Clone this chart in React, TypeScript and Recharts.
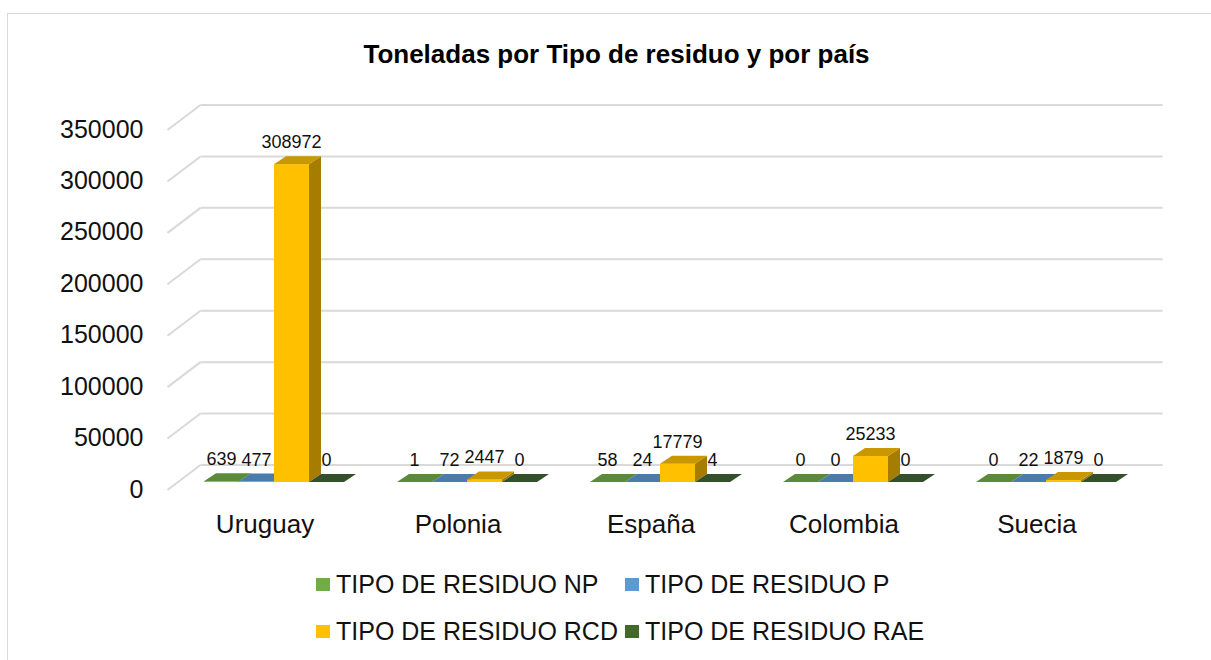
import React from "react";
import { BarChart, Bar, XAxis, YAxis, CartesianGrid, Legend, LabelList } from "recharts";

const countries = ["Uruguay", "Polonia", "España", "Colombia", "Suecia"];
const residuoNP = [639, 1, 58, 0, 0];
const residuoP = [477, 72, 24, 0, 22];
const residuoRCD = [308972, 2447, 17779, 25233, 1879];
const residuoRAE = [0, 0, 4, 0, 0];
const yTicks = [0, 50000, 100000, 150000, 200000, 250000, 300000, 350000];

const data = countries.map((name, i) => ({
  name,
  np: residuoNP[i],
  p: residuoP[i],
  rcd: residuoRCD[i],
  rae: residuoRAE[i],
}));

const FONT = '"Liberation Sans", Arial, sans-serif';
const DX = 12;
const DY = 8;

type Face = { front: string; top: string; side: string };

const series: { key: string; name: string; face: Face }[] = [
  { key: "np", name: "TIPO DE RESIDUO NP", face: { front: "#70ad47", top: "#5a8a3a", side: "#4f7a32" } },
  { key: "p", name: "TIPO DE RESIDUO P", face: { front: "#5b9bd5", top: "#497cab", side: "#3f6c96" } },
  { key: "rcd", name: "TIPO DE RESIDUO RCD", face: { front: "#ffc000", top: "#c99700", side: "#a67d00" } },
  { key: "rae", name: "TIPO DE RESIDUO RAE", face: { front: "#43682b", top: "#33502a", side: "#2b4420" } },
];

// front face + top + right side, so the bars look like Excel's 3D columns
function box(face: Face) {
  return (props: any) => {
    const { x, y, width: w, height: h } = props;
    return (
      <g>
        {h > 0 && <rect x={x} y={y} width={w} height={h} fill={face.front} />}
        {h > 0 && (
          <polygon
            points={`${x + w},${y} ${x + w + DX},${y - DY} ${x + w + DX},${y + h - DY} ${x + w},${y + h}`}
            fill={face.side}
          />
        )}
        <polygon
          points={`${x},${y} ${x + DX},${y - DY} ${x + w + DX},${y - DY} ${x + w},${y}`}
          fill={face.top}
        />
      </g>
    );
  };
}

const valueLabel = (props: any) => {
  const { x, y, width, value } = props;
  return (
    <text x={x + width / 2} y={y - 16} textAnchor="middle" fontSize={18} fontFamily={FONT} fill="#111">
      {value}
    </text>
  );
};

// back-wall gridline with the slanted side-wall segment
const gridLine = (props: any) => {
  const { x1, x2, y1, index } = props;
  return (
    <g key={`g-${index}`}>
      <line x1={x1 - 10} y1={y1 + 8} x2={x1 + 23} y2={y1 - 17} stroke="#d9d9d9" strokeWidth={2} />
      <line x1={x1 + 23} y1={y1 - 17} x2={x2 + 20} y2={y1 - 17} stroke="#d9d9d9" strokeWidth={2} />
    </g>
  );
};

const YTick = (props: any) => {
  const { x, y, payload } = props;
  return (
    <text x={x - 26} y={y + 9} textAnchor="end" dominantBaseline="middle" fontSize={25} fontFamily={FONT} fill="#111">
      {payload.value}
    </text>
  );
};

const XTick = (props: any) => {
  const { x, y, payload } = props;
  return (
    <text x={x - 9} y={y} dy={43} textAnchor="middle" fontSize={26} fontFamily={FONT} fill="#111">
      {payload.value}
    </text>
  );
};

const LegendBox = () => (
  <div style={{ position: "relative", height: 120, fontFamily: FONT, fontSize: 25, color: "#111" }}>
    {series.map((s, i) => (
      <div
        key={s.key}
        style={{
          position: "absolute",
          left: i % 2 === 0 ? 316 : 625,
          top: i < 2 ? 38 : 85,
          display: "flex",
          alignItems: "center",
          whiteSpace: "nowrap",
          lineHeight: "28px",
        }}
      >
        <span style={{ display: "inline-block", width: 14, height: 13, background: s.face.front, marginRight: 6 }} />
        {s.name}
      </div>
    ))}
  </div>
);

export default function App() {
  return (
    <div style={{ position: "absolute", left: 0, top: 0, width: 1211, height: 660, overflow: "hidden", background: "#fff" }}>
      <div
        style={{
          position: "absolute",
          left: 7,
          top: 13,
          width: 1240,
          height: 700,
          border: "1.5px solid #d9d9d9",
        }}
      />
      <div
        style={{
          position: "absolute",
          left: 0,
          width: 1233,
          top: 39,
          textAlign: "center",
          fontFamily: FONT,
          fontWeight: "bold",
          fontSize: 26,
          color: "#000",
        }}
      >
        Toneladas por Tipo de residuo y por país
      </div>
      <BarChart
        width={1211}
        height={660}
        data={data}
        margin={{ top: 122, right: 68.5, left: 7.5, bottom: 8 }}
        barGap={0}
        barCategoryGap={26.5}
      >
        <CartesianGrid vertical={false} horizontal={gridLine} />
        <XAxis dataKey="name" height={50} axisLine={false} tickLine={false} tick={<XTick />} interval={0} />
        <YAxis
          width={170}
          domain={[0, 350000]}
          ticks={yTicks}
          axisLine={false}
          tickLine={false}
          tick={<YTick />}
          interval={0}
        />
        <Legend content={<LegendBox />} wrapperStyle={{ left: 0, width: 1211 }} />
        {series.map((s) => (
          <Bar key={s.key} dataKey={s.key} name={s.name} shape={box(s.face)} isAnimationActive={false}>
            <LabelList dataKey={s.key} content={valueLabel} />
          </Bar>
        ))}
      </BarChart>
    </div>
  );
}
